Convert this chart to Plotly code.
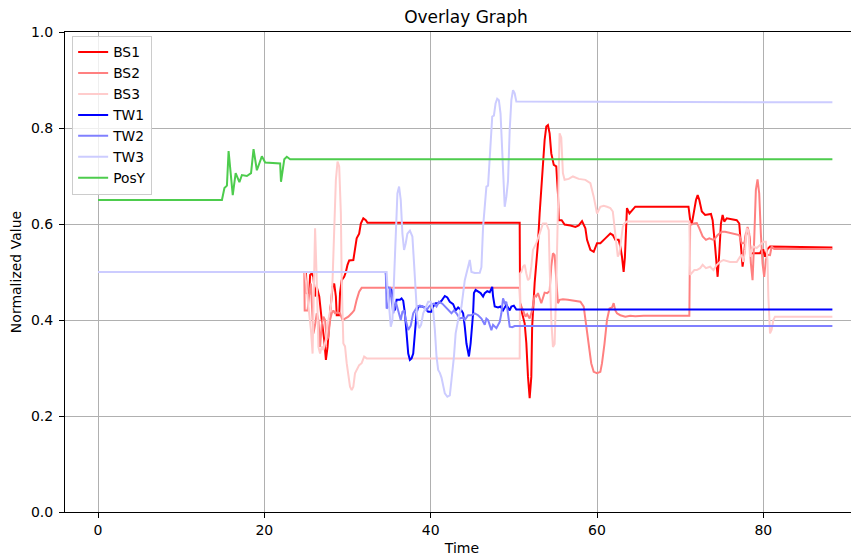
import plotly.graph_objects as go

# ---- data: (time, normalized value) ----
POSY = [(0, 0.65), (14.9, 0.65), (15.2, 0.675), (15.5, 0.68), (15.7, 0.752), (16.2, 0.66),
        (16.55, 0.706), (17.0, 0.687), (17.3, 0.702), (17.9, 0.70), (18.4, 0.706), (18.7, 0.756),
        (19.1, 0.712), (19.7, 0.741), (20.1, 0.728), (21.9, 0.726), (22.0, 0.688), (22.4, 0.735),
        (22.7, 0.74), (23.1, 0.735), (23.5, 0.735), (88.3, 0.735)]

BS1 = [(0, 0.5), (25.0, 0.5), (25.1, 0.456), (25.4, 0.455), (25.5, 0.494), (25.7, 0.497), (25.9, 0.49),
       (26.1, 0.449), (26.3, 0.469), (26.6, 0.449), (26.9, 0.40), (27.2, 0.358), (27.4, 0.317),
       (27.6, 0.344), (27.9, 0.414), (28.2, 0.469), (28.4, 0.476), (28.6, 0.449), (28.7, 0.41),
       (29.0, 0.41), (29.1, 0.456), (29.3, 0.483), (29.6, 0.49), (29.8, 0.50), (30.0, 0.515),
       (30.2, 0.524), (30.7, 0.525), (30.9, 0.546), (31.1, 0.57), (31.4, 0.58), (31.6, 0.601),
       (31.9, 0.612), (32.2, 0.608), (32.4, 0.6025), (50.7, 0.6025), (50.75, 0.435), (50.9, 0.42),
       (51.3, 0.393), (51.5, 0.352), (51.7, 0.282), (51.9, 0.237), (52.1, 0.282), (52.2, 0.386),
       (52.5, 0.477), (52.9, 0.56), (53.1, 0.622), (53.4, 0.699), (53.7, 0.775), (53.9, 0.803),
       (54.1, 0.806), (54.3, 0.789), (54.5, 0.747), (54.8, 0.723), (55.1, 0.72), (55.3, 0.664),
       (55.4, 0.608), (55.75, 0.608), (56.1, 0.599), (56.8, 0.597), (57.4, 0.594), (57.8, 0.597),
       (58.2, 0.606), (58.6, 0.591), (58.8, 0.567), (59.2, 0.546), (59.6, 0.542), (60.0, 0.56),
       (60.4, 0.56), (61.0, 0.57), (61.2, 0.574), (61.6, 0.58), (61.9, 0.577), (62.2, 0.567),
       (62.6, 0.567), (62.8, 0.553), (63.0, 0.532), (63.2, 0.50), (63.35, 0.53), (63.5, 0.594),
       (63.6, 0.633), (63.9, 0.622), (64.2, 0.628), (64.6, 0.636), (65.8, 0.636), (71.0, 0.636),
       (71.2, 0.608), (71.4, 0.601), (71.6, 0.62), (71.9, 0.65), (72.1, 0.66), (72.3, 0.65),
       (72.6, 0.626), (73.0, 0.619), (73.7, 0.621), (73.9, 0.608), (74.2, 0.553), (74.5, 0.49),
       (74.7, 0.539), (74.9, 0.601), (75.1, 0.619), (75.3, 0.605), (75.6, 0.612), (76.8, 0.608),
       (77.1, 0.601), (77.3, 0.553), (77.5, 0.511), (77.7, 0.539), (77.9, 0.58), (78.1, 0.584),
       (78.3, 0.575), (78.5, 0.539), (79.0, 0.539), (79.6, 0.539), (79.8, 0.546), (80.0, 0.546),
       (80.2, 0.532), (80.5, 0.548), (80.8, 0.553), (88.3, 0.551)]

BS2 = [(0, 0.5), (24.8, 0.5), (24.85, 0.42), (25.2, 0.42), (25.4, 0.456), (25.6, 0.476), (25.75, 0.42),
       (25.9, 0.372), (26.1, 0.39), (26.3, 0.414), (26.5, 0.40), (26.7, 0.344), (26.9, 0.39),
       (27.1, 0.407), (27.3, 0.40), (27.5, 0.358), (27.7, 0.365), (27.9, 0.40), (28.1, 0.414),
       (28.3, 0.42), (28.5, 0.414), (28.8, 0.416), (29.1, 0.414), (29.4, 0.40), (29.7, 0.403),
       (30.1, 0.407), (30.5, 0.414), (30.8, 0.42), (31.1, 0.442), (31.4, 0.459), (31.7, 0.467),
       (50.7, 0.467), (50.75, 0.435), (51.1, 0.42), (51.4, 0.407), (51.6, 0.412), (51.9, 0.403),
       (52.2, 0.42), (52.5, 0.452), (52.7, 0.449), (52.9, 0.456), (53.3, 0.435), (53.5, 0.445),
       (53.7, 0.457), (54.0, 0.456), (54.3, 0.46), (54.5, 0.511), (54.7, 0.539), (54.9, 0.535),
       (55.1, 0.483), (55.3, 0.435), (55.5, 0.442), (55.9, 0.443), (56.5, 0.442), (57.4, 0.44),
       (58.0, 0.438), (58.4, 0.428), (58.6, 0.40), (59.0, 0.351), (59.3, 0.31), (59.6, 0.292),
       (60.0, 0.289), (60.4, 0.292), (60.6, 0.31), (60.9, 0.351), (61.0, 0.365), (61.2, 0.40),
       (61.5, 0.424), (61.8, 0.426), (62.0, 0.435), (62.2, 0.42), (62.4, 0.414), (62.8, 0.41),
       (63.4, 0.407), (64.0, 0.409), (64.6, 0.408), (65.0, 0.409), (65.6, 0.409), (71.1, 0.409),
       (71.2, 0.598), (71.6, 0.601), (72.0, 0.602), (72.3, 0.591), (72.7, 0.574), (73.1, 0.567),
       (73.5, 0.57), (74.0, 0.567), (74.2, 0.57), (74.5, 0.577), (75.0, 0.584), (75.4, 0.584),
       (76.2, 0.58), (77.1, 0.577), (77.4, 0.56), (77.7, 0.56), (78.1, 0.594), (78.3, 0.58),
       (78.5, 0.518), (78.7, 0.483), (78.9, 0.567), (79.1, 0.671), (79.3, 0.693), (79.5, 0.664),
       (79.7, 0.58), (79.9, 0.518), (80.1, 0.49), (80.3, 0.525), (80.5, 0.536), (80.8, 0.535),
       (81.0, 0.553), (81.3, 0.548), (88.3, 0.548)]

BS3 = [(0, 0.5), (24.9, 0.5), (25.3, 0.428), (25.6, 0.379), (25.8, 0.33), (25.95, 0.449), (26.1, 0.591),
       (26.3, 0.483), (26.5, 0.344), (26.7, 0.33), (26.9, 0.345), (27.1, 0.3375), (27.4, 0.36),
       (27.7, 0.40), (28.0, 0.428), (28.2, 0.483), (28.4, 0.5875), (28.6, 0.692), (28.8, 0.73),
       (29.0, 0.72), (29.2, 0.622), (29.3, 0.483), (29.5, 0.351), (29.7, 0.345), (29.9, 0.31),
       (30.1, 0.289), (30.3, 0.261), (30.5, 0.254), (30.7, 0.261), (30.9, 0.289), (31.1, 0.295),
       (31.4, 0.306), (31.7, 0.31), (32.0, 0.3236), (32.3, 0.32), (50.7, 0.32), (50.75, 0.497),
       (50.9, 0.50), (51.1, 0.511), (51.3, 0.515), (51.5, 0.497), (51.7, 0.483), (51.9, 0.487),
       (52.1, 0.511), (52.3, 0.546), (52.7, 0.56), (53.1, 0.58), (53.5, 0.601), (53.9, 0.601),
       (54.2, 0.587), (54.3, 0.511), (54.5, 0.40), (54.7, 0.344), (54.9, 0.35), (55.1, 0.469),
       (55.3, 0.657), (55.5, 0.789), (55.7, 0.78), (55.9, 0.706), (56.1, 0.692), (56.6, 0.694),
       (57.1, 0.699), (57.8, 0.694), (58.6, 0.692), (59.2, 0.685), (59.6, 0.657), (60.0, 0.622),
       (60.4, 0.636), (60.8, 0.638), (61.2, 0.636), (61.6, 0.633), (61.9, 0.626), (62.0, 0.608),
       (62.2, 0.58), (62.5, 0.532), (62.7, 0.54), (62.9, 0.567), (63.1, 0.594), (63.3, 0.601),
       (63.6, 0.605), (71.1, 0.605), (71.2, 0.494), (71.7, 0.504), (72.0, 0.504), (72.4, 0.508),
       (72.7, 0.515), (73.1, 0.508), (73.6, 0.511), (74.0, 0.504), (74.4, 0.515), (74.8, 0.521),
       (75.2, 0.525), (76.0, 0.521), (76.8, 0.521), (77.2, 0.532), (77.4, 0.535), (77.6, 0.521),
       (77.8, 0.546), (78.0, 0.591), (78.2, 0.587), (78.4, 0.532), (78.6, 0.546), (78.8, 0.553),
       (79.2, 0.55), (79.6, 0.556), (80.0, 0.563), (80.3, 0.563), (80.5, 0.525), (80.6, 0.449),
       (80.8, 0.372), (81.0, 0.38), (81.2, 0.40), (81.4, 0.407), (88.3, 0.407)]

TW1 = [(0, 0.5), (34.6, 0.5), (34.7, 0.469), (35.0, 0.467), (35.3, 0.4625), (35.5, 0.435), (35.7, 0.42),
       (35.9, 0.442), (36.3, 0.442), (36.5, 0.445), (36.7, 0.44), (36.9, 0.414), (37.1, 0.372),
       (37.3, 0.33), (37.5, 0.317), (37.7, 0.32), (37.9, 0.33), (38.1, 0.372), (38.3, 0.414),
       (38.5, 0.428), (39.0, 0.428), (39.3, 0.426), (39.7, 0.417), (40.1, 0.417), (40.3, 0.428),
       (40.6, 0.435), (40.9, 0.435), (41.1, 0.437), (41.3, 0.44), (41.7, 0.45), (42.0, 0.447),
       (42.3, 0.438), (42.7, 0.433), (43.0, 0.42), (43.3, 0.426), (43.7, 0.42), (43.9, 0.414),
       (44.1, 0.386), (44.3, 0.351), (44.6, 0.324), (44.8, 0.351), (45.1, 0.414), (45.2, 0.456),
       (45.4, 0.4625), (45.7, 0.46), (46.0, 0.456), (46.3, 0.449), (46.5, 0.456), (46.8, 0.46),
       (47.1, 0.458), (47.4, 0.469), (47.5, 0.449), (47.7, 0.428), (48.1, 0.426), (48.4, 0.428),
       (48.7, 0.42), (49.1, 0.432), (49.5, 0.42), (49.7, 0.428), (50.0, 0.43), (50.3, 0.422),
       (88.3, 0.422)]

TW2 = [(0, 0.5), (34.6, 0.5), (34.7, 0.424), (34.9, 0.428), (35.1, 0.469), (35.3, 0.44), (35.5, 0.414),
       (35.8, 0.438), (36.1, 0.42), (36.4, 0.40), (36.6, 0.417), (36.8, 0.42), (37.0, 0.40),
       (37.3, 0.379), (37.6, 0.388), (37.9, 0.414), (38.1, 0.42), (38.4, 0.428), (38.7, 0.43),
       (39.1, 0.428), (39.5, 0.42), (39.8, 0.428), (40.1, 0.433), (40.4, 0.434), (40.7, 0.428),
       (41.0, 0.438), (41.4, 0.434), (41.7, 0.428), (42.1, 0.42), (42.5, 0.414), (42.8, 0.42),
       (43.1, 0.414), (43.5, 0.403), (43.9, 0.405), (44.1, 0.40), (44.5, 0.41), (44.9, 0.41),
       (45.3, 0.414), (45.7, 0.41), (46.1, 0.403), (46.5, 0.39), (46.7, 0.403), (46.9, 0.40),
       (47.1, 0.39), (47.3, 0.379), (47.5, 0.39), (47.9, 0.383), (48.3, 0.396), (48.5, 0.414),
       (48.7, 0.445), (48.9, 0.435), (49.1, 0.438), (49.3, 0.414), (49.5, 0.386), (49.8, 0.385),
       (50.1, 0.3875), (88.3, 0.3875)]

TW3 = [(0, 0.5), (34.7, 0.5), (34.8, 0.47), (35.0, 0.428), (35.2, 0.386), (35.4, 0.40), (35.6, 0.483),
       (35.8, 0.5875), (36.0, 0.664), (36.2, 0.678), (36.4, 0.65), (36.6, 0.58), (36.8, 0.546),
       (37.0, 0.56), (37.2, 0.58), (37.5, 0.586), (37.8, 0.574), (38.0, 0.518), (38.2, 0.449),
       (38.4, 0.40), (38.6, 0.383), (38.85, 0.39), (39.1, 0.414), (39.4, 0.428), (39.7, 0.438),
       (40.0, 0.438), (40.3, 0.42), (40.5, 0.38), (40.7, 0.324), (40.9, 0.296), (41.1, 0.29),
       (41.3, 0.28), (41.5, 0.261), (41.7, 0.247), (42.0, 0.24), (42.3, 0.243), (42.5, 0.275),
       (42.8, 0.324), (43.0, 0.372), (43.3, 0.40), (43.7, 0.428), (44.1, 0.483), (44.5, 0.511),
       (44.7, 0.525), (44.9, 0.50), (45.3, 0.498), (45.9, 0.4986), (46.1, 0.51), (46.3, 0.594),
       (46.7, 0.678), (46.9, 0.68), (47.2, 0.782), (47.4, 0.824), (47.6, 0.826), (47.8, 0.851),
       (48.0, 0.861), (48.2, 0.858), (48.4, 0.83), (48.6, 0.761), (48.8, 0.671), (48.9, 0.636),
       (49.1, 0.657), (49.3, 0.69), (49.5, 0.796), (49.7, 0.858), (49.9, 0.879), (50.1, 0.872),
       (50.3, 0.855), (88.3, 0.8535)]

SERIES_NAMES = ["BS1", "BS2", "BS3", "TW1", "TW2", "TW3", "PosY"]
SERIES_DATA = [BS1, BS2, BS3, TW1, TW2, TW3, POSY]
SERIES_COLORS = ["#ff0000", "#ff8080", "#ffcccc", "#0000ff", "#8080ff", "#ccccff", "#4dcc4d"]

X_TICKS = [0, 20, 40, 60, 80]
Y_TICKS = [0.0, 0.2, 0.4, 0.6, 0.8, 1.0]

FONT = "DejaVu Sans"

# The page body has an 8px margin, so the figure is sized to fill the rest of the window.
FIG_W, FIG_H = 851, 548

fig = go.Figure()
for name, pts, col in zip(SERIES_NAMES, SERIES_DATA, SERIES_COLORS):
    fig.add_trace(go.Scatter(
        x=[p[0] for p in pts], y=[p[1] for p in pts], name=name, mode="lines",
        line=dict(color=col, width=2), hoverinfo="skip"))

axis_common = dict(
    showline=True, linecolor="black", linewidth=1,
    ticks="outside", ticklen=5, tickwidth=1, tickcolor="black",
    showgrid=True, gridcolor="#b0b0b0", gridwidth=1, zeroline=False,
    tickfont=dict(family=FONT, size=14, color="black"),
    automargin=False,
)

fig.update_layout(
    width=FIG_W, height=FIG_H,
    margin=dict(l=57, r=0, t=24, b=44, autoexpand=False),
    paper_bgcolor="white", plot_bgcolor="white",
    font=dict(family=FONT, color="black"),
    title=dict(text="Overlay Graph", x=458 / FIG_W, xanchor="center", y=1 - 9 / FIG_H, yanchor="middle",
               font=dict(family=FONT, size=17, color="black")),
    xaxis=dict(range=[-3.97, 91.5], tickvals=X_TICKS, mirror=True,
               title=dict(text="Time", font=dict(family=FONT, size=14, color="black"), standoff=6),
               **axis_common),
    yaxis=dict(range=[0, 1], tickvals=Y_TICKS, tickformat=".1f", ticklabelstandoff=3,
               title=dict(text="Normalized Value", font=dict(family=FONT, size=14, color="black"), standoff=8),
               **axis_common),
    legend=dict(x=0.009, y=0.9925, xanchor="left", yanchor="top",
                bgcolor="rgba(255,255,255,0.8)", bordercolor="#cccccc", borderwidth=1,
                font=dict(family=FONT, size=13.8, color="black"), itemwidth=30,
                tracegroupgap=0),
    showlegend=True,
)

fig.write_html("out.html")
